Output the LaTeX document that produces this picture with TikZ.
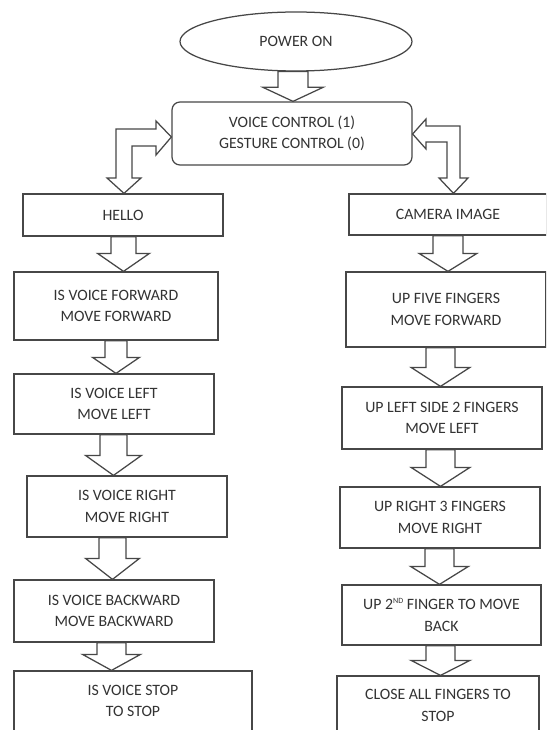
\documentclass[tikz,border=0pt]{standalone}
\usepackage{fontspec}
\setmainfont{Carlito}
\usetikzlibrary{shapes.geometric,calc}
\definecolor{ink}{HTML}{474747}
\definecolor{txt}{HTML}{333333}
\tikzset{
  box/.style={draw=ink, line width=1.25pt, fill=white, rectangle, inner sep=0pt,
    align=center, text=txt, font=\fontsize{15.8}{21.5}\selectfont},
  rbox/.style={box, rounded corners=8pt},
  oval/.style={box, ellipse},
  blockarrow/.style={draw=ink, line width=1.25pt, fill=white, line join=miter},
}
% small raised ordinal suffix
\newcommand\ordsup[1]{\raisebox{6pt}{\fontsize{8}{8}\selectfont #1}}
% hollow downward block arrow from one node to the next
% #1 source, #2 target, #3 centre x, #4 half shaft, #5 half head, #6 head length
\newcommand\blockdown[6]{%
  \coordinate (ax) at (#3,0);
  \coordinate (s) at (#1.south -| ax);
  \coordinate (t) at (#2.north -| ax);
  \draw[blockarrow] ($(s)+(-#4,0)$) -- ($(t)+(-#4,-#6)$) -- ($(t)+(-#5,-#6)$)
    -- (t) -- ($(t)+(#5,-#6)$) -- ($(t)+(#4,-#6)$) -- ($(s)+(#4,0)$) -- cycle;
}
\begin{document}
\begin{tikzpicture}[x=1pt,y=-1pt]
\useasboundingbox (0,0) rectangle (546,730);
\fill[white] (0,0) rectangle (546,730);
\clip (0,0) rectangle (546,730);

% start and mode selection
\node[oval, minimum width=232pt, minimum height=59pt] (power) at (296,41.5) {POWER ON};
\node[rbox, minimum width=240pt, minimum height=63pt] (voice) at (292,133.5)
  {VOICE CONTROL (1)\\GESTURE CONTROL (0)};

% voice branch
\node[box, minimum width=200pt, minimum height=42pt] (hello) at (123,215) {HELLO};
\node[box, minimum width=204pt, minimum height=68pt] (fwd) at (116,306)
  {IS VOICE FORWARD\\MOVE FORWARD};
\node[box, minimum width=200pt, minimum height=60pt] (left) at (114,404)
  {IS VOICE LEFT\\MOVE LEFT};
\node[box, minimum width=200pt, minimum height=61pt] (right) at (127,506.5)
  {IS VOICE RIGHT\\MOVE RIGHT};
\node[box, minimum width=200pt, minimum height=62pt] (back) at (114,611)
  {IS VOICE BACKWARD\\MOVE BACKWARD};
\node[box, minimum width=238pt, minimum height=60pt] (stop) at (133,701)
  {IS VOICE STOP\\TO STOP};

% gesture branch
\node[box, minimum width=198pt, minimum height=41pt] (camera) at (448,214.5) {CAMERA IMAGE};
\node[box, minimum width=200pt, minimum height=75pt] (five) at (446,309.5)
  {UP FIVE FINGERS\\MOVE FORWARD};
\node[box, minimum width=200pt, minimum height=62pt] (left2) at (442,418)
  {UP LEFT SIDE 2 FINGERS\\MOVE LEFT};
\node[box, minimum width=200pt, minimum height=61pt] (right3) at (440,517.5)
  {UP RIGHT 3 FINGERS\\MOVE RIGHT};
\node[box, minimum width=199pt, minimum height=60pt] (second) at (441.5,615)
  {UP 2\ordsup{ND} FINGER TO MOVE\\BACK};
\node[box, minimum width=202pt, minimum height=59pt] (close) at (438,705.5)
  {CLOSE ALL FINGERS TO\\STOP};

% straight block arrows
\blockdown{power}{voice}{293}{15}{30}{14}
\blockdown{hello}{fwd}{123.5}{12.5}{26}{18}
\blockdown{fwd}{left}{116}{11}{23.5}{16}
\blockdown{left}{right}{113.5}{13.5}{28}{20}
\blockdown{right}{back}{112.5}{13.5}{27}{21}
\blockdown{back}{stop}{111.5}{14.5}{29}{16}
\blockdown{camera}{five}{448}{15}{29}{18}
\blockdown{five}{left2}{440.5}{14.5}{29.5}{19}
\blockdown{left2}{right3}{440.5}{14.5}{29.5}{19}
\blockdown{right3}{second}{439.5}{14.5}{29}{18}
\blockdown{second}{close}{440.5}{14.5}{29.5}{15}

% bent two-way block arrows between the selector and each branch
\coordinate (lt) at ($(voice.west)+(0,3.5)$);
\coordinate (lb) at (hello.north -| 124,0);
\draw[blockarrow] (lt) -- (156,121) -- (156,129) -- (116,129) -- (116,178)
  -- (107,178) -- (lb) -- (141,178) -- (132,178) -- (132,146) -- (156,146)
  -- (156,155) -- cycle;

\coordinate (rt) at ($(voice.east)+(0,0.5)$);
\coordinate (rb) at (camera.north -| 453.5,0);
\draw[blockarrow] (rt) -- (426,119) -- (426,126) -- (460,126) -- (460,178)
  -- (468,178) -- (rb) -- (439,178) -- (447,178) -- (447,142) -- (426,142)
  -- (426,149) -- cycle;
\end{tikzpicture}
\end{document}
